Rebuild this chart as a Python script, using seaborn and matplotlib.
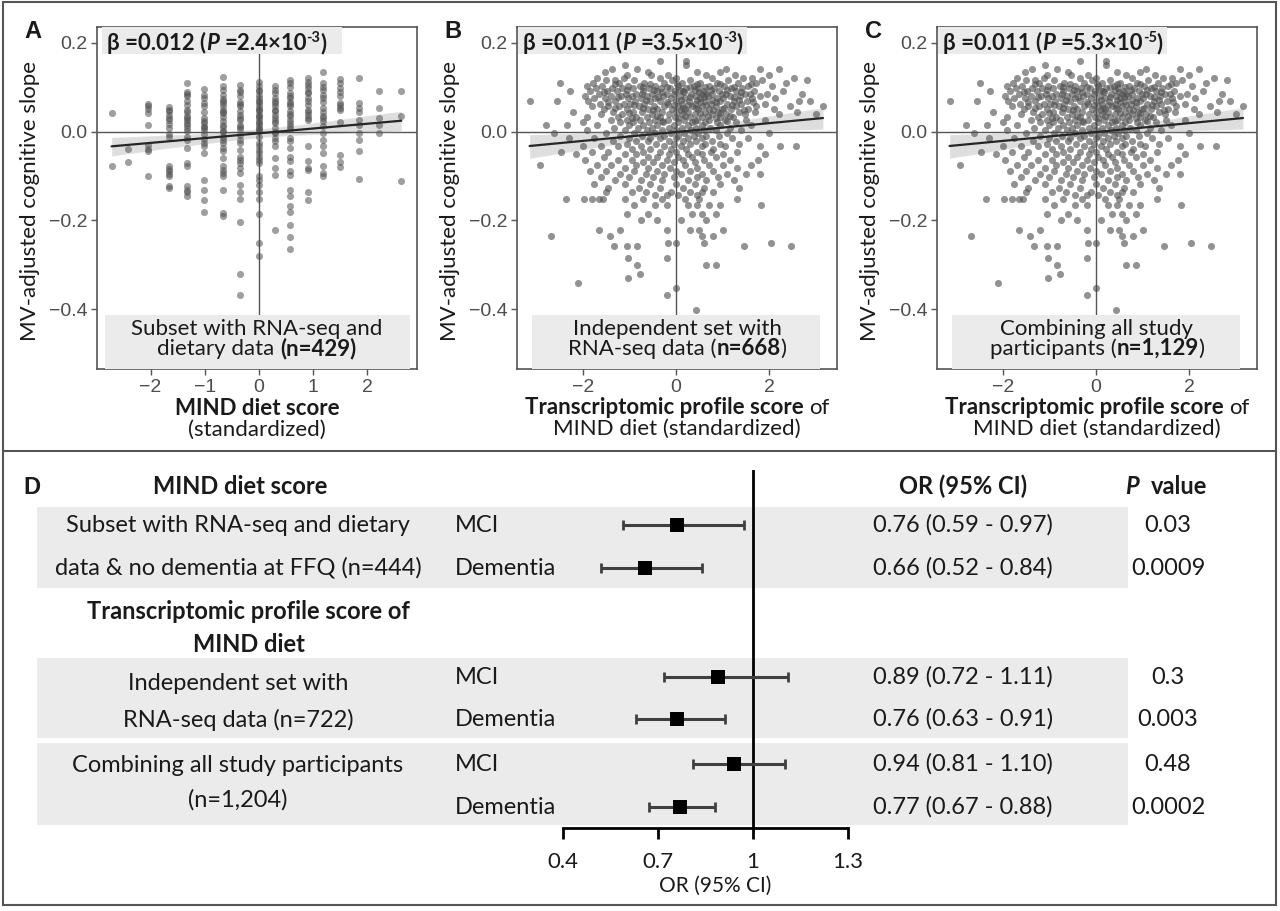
import matplotlib
matplotlib.use("Agg")
import matplotlib.pyplot as plt
import numpy as np
import pandas as pd
import seaborn as sns
from matplotlib.patches import Rectangle
from matplotlib.lines import Line2D

# ---------------- data ----------------
# Panel A: MIND diet score takes discrete standardized values (columns)
a_x_levels = [-2.72, -2.42, -2.05, -1.66, -1.32, -1.01, -0.67, -0.34, 0.0,
              0.30, 0.58, 0.90, 1.19, 1.50, 1.84, 2.22, 2.63]
a_y_by_level = [
    [0.042, -0.078],
    [-0.038, -0.069],
    [0.062, 0.057, 0.052, 0.043, 0.015, -0.030, -0.038, -0.044, -0.101],
    [0.055, 0.050, 0.047, 0.038, 0.030, 0.027, 0.018, 0.008, -0.005, -0.011, -0.078,
     -0.084, -0.089, -0.095, -0.101, -0.123, -0.128],
    [0.110, 0.090, 0.085, 0.080, 0.070, 0.060, 0.050, 0.044, 0.036, 0.030, 0.027,
     0.020, 0.014, 0.008, 0.001, -0.011, -0.018, -0.037, -0.071, -0.077, -0.123,
     -0.131, -0.137, -0.144],
    [0.096, 0.083, 0.075, 0.065, 0.057, 0.044, 0.030, 0.023, 0.020, 0.011, 0.010,
     0.003, -0.005, -0.017, -0.026, -0.033, -0.047, -0.108, -0.132, -0.155, -0.182],
    [0.123, 0.102, 0.095, 0.083, 0.074, 0.070, 0.065, 0.057, 0.050, 0.045, 0.042,
     0.033, 0.023, 0.015, 0.011, 0.001, 0.000, -0.011, -0.018, -0.026, -0.037, -0.044,
     -0.059, -0.078, -0.086, -0.093, -0.101, -0.131, -0.183, -0.191],
    [0.106, 0.095, 0.090, 0.080, 0.068, 0.062, 0.057, 0.046, 0.038, 0.030, 0.027,
     0.016, 0.010, 0.005, -0.007, -0.018, -0.026, -0.041, -0.056, -0.064, -0.071,
     -0.082, -0.093, -0.120, -0.135, -0.152, -0.204, -0.320, -0.368],
    [0.113, 0.102, 0.095, 0.091, 0.083, 0.076, 0.070, 0.068, 0.061, 0.053, 0.050,
     0.046, 0.038, 0.035, 0.031, 0.023, 0.020, 0.016, 0.008, 0.005, 0.001, -0.011,
     -0.026, -0.033, -0.041, -0.048, -0.056, -0.063, -0.071, -0.101, -0.108, -0.120,
     -0.135, -0.152, -0.185, -0.251, -0.280],
    [0.102, 0.095, 0.087, 0.076, 0.070, 0.065, 0.057, 0.050, 0.046, 0.038, 0.031,
     0.025, 0.020, 0.008, 0.000, -0.003, -0.014, -0.022, -0.032, -0.059, -0.082,
     -0.097, -0.221],
    [0.117, 0.110, 0.100, 0.087, 0.080, 0.076, 0.068, 0.062, 0.057, 0.046, 0.040,
     0.035, 0.027, 0.020, 0.012, 0.005, -0.014, -0.022, -0.037, -0.056, -0.067,
     -0.089, -0.097, -0.131, -0.146, -0.168, -0.182, -0.210, -0.238, -0.265],
    [0.121, 0.113, 0.105, 0.098, 0.090, 0.087, 0.076, 0.070, 0.061, 0.050, 0.045,
     0.038, 0.030, 0.027, -0.033, -0.067, -0.082, -0.086, -0.135, -0.153],
    [0.134, 0.110, 0.100, 0.095, 0.083, 0.075, 0.068, 0.053, 0.045, 0.035, 0.030,
     0.023, 0.012, -0.003, -0.018, -0.033, -0.047, -0.078, -0.093, -0.101],
    [0.119, 0.110, 0.098, 0.090, 0.080, 0.065, 0.061, 0.053, 0.048, 0.021, -0.052,
     -0.069, -0.080],
    [0.122, 0.065, 0.053, 0.044, 0.027, 0.014, -0.002, -0.018, -0.044, -0.107],
    [0.091, 0.053, 0.031, 0.016, -0.002],
    [0.091, 0.035, -0.112],
]

# Panels B and C (the two clouds are drawn identically): points listed row by row
b_y_levels = [0.160, 0.150, 0.142, 0.135, 0.128, 0.122, 0.116, 0.110, 0.104, 0.098,
              0.092, 0.086, 0.081, 0.075, 0.069, 0.063, 0.057, 0.051, 0.045, 0.039,
              0.033, 0.027, 0.021, 0.015, 0.009, 0.003, -0.003, -0.009, -0.015, -0.021,
              -0.027, -0.033, -0.039, -0.045, -0.051, -0.057, -0.063, -0.069, -0.075,
              -0.081, -0.088, -0.095, -0.102, -0.110, -0.118, -0.126, -0.135, -0.143,
              -0.152, -0.165, -0.185, -0.200, -0.221, -0.235, -0.250, -0.258, -0.285,
              -0.300, -0.320, -0.330, -0.341, -0.352, -0.369, -0.402]
b_x_by_level = [
    [-0.34, 0.22],
    [0.22, -1.10],
    [-1.37, -0.84, 1.06, 1.80, 2.21],
    [0.45, -0.60, 0.95, -1.52],
    [-0.54, -0.18, 1.26, 0.65, -1.05, 2.00],
    [-1.69, -1.12, 0.0, 0.76, 1.44, 2.52, -0.35, 1.62],
    [-1.50, -0.90, 0.30, 2.81, -0.08, 1.12, 1.85, -1.30],
    [-2.49, -1.78, -1.22, -0.68, -0.25, 0.12, 0.52, 0.88, 1.33, 1.72, 2.35],
    [-1.90, -1.58, -1.02, -0.78, -0.45, 0.05, 0.38, 0.70, 1.02, 1.55, 2.05],
    [-1.72, -1.38, -1.15, -0.92, -0.58, -0.32, -0.12, 0.22, 0.48, 0.82, 1.18, 1.42],
    [-2.27, -1.85, -1.48, -1.26, -0.70, -0.40, -0.02, 0.15, 0.60, 0.92, 1.28, 1.68, 2.30],
    [-1.65, -1.08, -0.85, -0.52, -0.20, 0.32, 0.55, 0.78, 1.08, 1.48, 1.95, 2.70],
    [-1.95, -1.40, -1.18, -0.95, -0.62, -0.28, 0.08, 0.42, 0.68, 1.15, 1.38, 1.80],
    [-1.75, -1.52, -1.02, -0.75, -0.45, -0.10, 0.20, 0.52, 0.88, 1.00, 1.62, 2.12],
    [-3.14, -2.56, -1.88, -1.30, -0.88, -0.55, -0.35, 0.00, 0.28, 0.62, 0.95, 1.25,
     1.52, 2.63, 2.88],
    [-1.62, -1.12, -0.98, -0.68, -0.18, 0.12, 0.40, 0.75, 1.10, 1.40, 1.90],
    [-1.80, -1.45, -1.22, -0.80, -0.48, -0.25, 0.05, 0.35, 0.55, 0.85, 1.28, 1.72,
     2.45, 3.15],
    [-1.55, -1.05, -0.60, -0.40, -0.08, 0.20, 0.48, 0.70, 0.98, 1.18, 1.55, 2.10],
    [-2.20, -1.35, -0.92, -0.72, -0.30, 0.00, 0.26, 0.62, 0.90, 1.35, 1.70, 2.60],
    [-1.60, -1.15, -0.52, -0.15, 0.12, 0.40, 0.78, 1.08, 1.48, 2.20, 3.00],
    [-1.90, -1.25, -0.85, -0.62, -0.35, -0.02, 0.30, 0.55, 0.95, 1.22],
    [-1.40, -1.05, -0.78, -0.45, -0.18, 0.18, 0.45, 0.70, 1.05, 1.50, 1.90],
    [-2.00, -1.20, -0.92, -0.58, -0.28, 0.05, 0.35, 0.62, 0.88, 1.28],
    [-2.78, -2.33, -1.70, -1.00, -0.70, -0.40, -0.05, 0.25, 0.55, 0.95, 1.60],
    [-1.32, -0.82, -0.52, -0.15, 0.12, 0.42, 0.72, 1.15],
    [-1.90, -1.10, -0.62, -0.30, 0.00, 0.32, 0.60, 0.85, 1.40],
    [-2.62, -1.50, -0.90, -0.45, -0.10, 0.18, 0.48, 1.10, 2.00],
    [-1.20, -0.72, -0.25, 0.05, 0.38, 0.65, 0.92],
    [-2.30, -1.75, -1.00, -0.55, -0.35, 0.00, 0.25, 0.55, 1.20, 1.55],
    [-1.35, -0.85, -0.60, -0.15, 0.15, 0.42, 0.78],
    [-1.05, -0.42, -0.05, 0.30, 0.62, 0.95, 1.35],
    [-2.00, -1.60, -1.25, -0.75, -0.25, 0.10, 0.55, 1.05, 1.80, 2.23, 2.57],
    [-0.95, -0.55, -0.10, 0.22, 0.80],
    [-2.46, -1.80, -1.45, -0.70, -0.35, 0.00, 0.45, 0.75, 1.30],
    [-2.15, -1.10, -0.85, -0.15, 0.25, 0.55, 1.00, 1.90],
    [-1.55, -0.60, -0.40, 0.05, 0.35, 0.85],
    [-1.95, -1.25, -0.95, -0.20, 0.15, 0.60, 1.15, 1.75],
    [-0.70, -0.50, -0.05, 0.40],
    [-2.92, -1.70, -1.40, -0.85, -0.30, 0.20, 0.70, 1.00, 1.60],
    [-1.10, -0.60, -0.12, 0.45, 1.30],
    [-1.85, -1.50, -0.90, -0.40, 0.00, 0.30, 0.80],
    [-1.20, -0.65, -0.25, 0.10, 0.55, 1.10, 1.50, 1.80],
    [-1.60, -1.00, -0.50, -0.05, 0.45, 0.90],
    [-1.30, -0.75, -0.30, 0.25, 0.65, 1.25],
    [-1.75, -1.10, -0.55, 0.00, 0.40, 0.95],
    [-1.45, -0.80, -0.35, 0.15, 0.60, 1.35],
    [-1.50, -0.95, -0.65, -0.10, 0.30, 0.55, 0.80],
    [-0.45, -0.20, 0.05, 0.45],
    [-2.37, -1.98, -1.80, -1.65, -1.56, -1.10, -0.70, -0.30, 0.20, 0.50, 1.30],
    [-0.90, -0.45, -0.20, 0.25, 0.45, 0.70, 0.95, 1.82],
    [-1.05, -0.60, 0.35, 0.55, 0.85],
    [-0.75, -0.40, 0.10, 0.65],
    [-1.65, -1.20, -0.20, 0.30, 0.50, 1.00],
    [-2.68, -1.42, 0.55, 0.80],
    [-0.18, 0.00, 0.60, 2.04],
    [-1.33, -1.06, -0.83, 1.46, 2.47],
    [-1.04, -0.20],
    [-0.84, 0.65, 0.86],
    [-0.77],
    [-1.04],
    [-2.10],
    [0.00],
    [-0.19],
    [0.43],
]
# dark, overlapping core of the B/C cloud
b_core_y_levels = [0.107, 0.101, 0.095, 0.089, 0.084, 0.078, 0.072, 0.066, 0.060,
                   0.054, 0.048, 0.042, 0.036, 0.030, 0.024]
b_core_x_by_level = [
    [-1.30, -0.55, 0.02, 0.45, 0.95, 1.60],
    [-0.70, -0.20, 0.30, 0.62, 1.25],
    [-1.05, -0.48, 0.08, 0.40, 0.75, 1.10],
    [-1.55, -0.30, 0.18, 0.50, 1.40],
    [-0.72, -0.05, 0.65, 0.98, 1.58],
    [-1.25, -0.38, 0.30, 0.60, 1.25],
    [-0.65, 0.10, 0.45, 0.78, 1.35],
    [-1.45, -0.20, 0.52, 0.85, 1.65],
    [-0.90, -0.05, 0.25, 0.65, 1.20],
    [-1.30, -0.70, 0.15, 0.42, 1.02],
    [-0.50, 0.10, 0.80, 1.45],
    [-1.00, 0.52, 0.95],
    [-0.40, 0.20, 0.68, 1.15],
    [-0.95, 0.05, 0.85],
    [-0.30, 0.40, 1.10],
]

panel_letters = ["A", "B", "C"]
beta_text = ["0.012", "0.011", "0.011"]
p_mantissa = ["2.4", "3.5", "5.3"]
p_exponent = ["-3", "-3", "-5"]
subset_line1 = ["Subset with RNA-seq and", "Independent set with", "Combining all study"]
subset_line2 = [("dietary data ", "(n=429)", ""), ("RNA-seq data (", "n=668", ")"),
                ("participants (", "n=1,129", ")")]

# Panel D: odds ratios for MCI / dementia
group_labels = [["Subset with RNA-seq and dietary", "data & no dementia at FFQ (n=444)"],
                ["Independent set with", "RNA-seq data (n=722)"],
                ["Combining all study participants", "(n=1,204)"]]
outcomes = ["MCI", "Dementia", "MCI", "Dementia", "MCI", "Dementia"]
or_est = [0.76, 0.66, 0.89, 0.76, 0.94, 0.77]
or_low = [0.59, 0.52, 0.72, 0.63, 0.81, 0.67]
or_high = [0.97, 0.84, 1.11, 0.91, 1.10, 0.88]
p_values = ["0.03", "0.0009", "0.3", "0.003", "0.48", "0.0002"]
or_ticks = [0.4, 0.7, 1.0, 1.3]
or_tick_labels = ["0.4", "0.7", "1", "1.3"]

# ---------------- style ----------------
sns.set_theme(style="white")
CAL = ["Lato", "DejaVu Sans"]
ARIAL = ["Liberation Sans", "DejaVu Sans"]
plt.rcParams["font.family"] = CAL
TXT = "#1a1a1a"
GREY_BAND = "#ebebeb"
FS_D = 17      # panel D text
FS_ANN = 16    # annotations in panels A-C

W, H = 1280, 911
fig = plt.figure(figsize=(12.8, 9.11), dpi=100)
fig.patch.set_facecolor("white")
renderer = fig.canvas.get_renderer()


def fx(x):
    return x / W


def fy(y):
    return 1 - y / H


def px_axes(l, t, r, b):
    return fig.add_axes([l / W, 1 - b / H, (r - l) / W, (b - t) / H])


def text_width(s, **kw):
    a = fig.text(0, 0, "|" + s + "|", **kw)
    b = fig.text(0, 0, "||", **kw)
    w = a.get_window_extent(renderer).width - b.get_window_extent(renderer).width
    a.remove()
    b.remove()
    return w


def rich(x, y, parts, size=FS_D, ha="center", color=TXT):
    """Draw a line of text made of differently styled pieces, baseline at y (px)."""
    items = []
    for s, opt in parts:
        kw = dict(fontsize=opt.get("size", size), fontweight=opt.get("weight", "normal"),
                  fontstyle=opt.get("style", "normal"), family=CAL)
        sp = text_width(" ", **kw)
        core = s.strip(" ")
        lead = len(s) - len(s.lstrip(" "))
        trail = len(s) - len(s.rstrip(" "))
        w = text_width(core, **kw) if core else 0
        items.append((core, kw, opt.get("dy", 0), lead * sp, w, trail * sp))
    total = sum(i[3] + i[4] + i[5] for i in items)
    x0 = x - total / 2 if ha == "center" else x
    for core, kw, dy, lw, w, tw in items:
        x0 += lw
        if core:
            fig.text(fx(x0), fy(y + dy), core, ha="left", va="baseline", color=color, **kw)
        x0 += w + tw


B = {"weight": "bold"}
N = {}

# ---------------- panels A-C ----------------
a_x = np.concatenate([[xv] * len(ys) for xv, ys in zip(a_x_levels, a_y_by_level)])
a_y = np.concatenate(a_y_by_level)
b_levels = b_y_levels + b_core_y_levels
b_rows = b_x_by_level + b_core_x_by_level
b_y = np.concatenate([[yv] * len(xs) for yv, xs in zip(b_levels, b_rows)])
b_x = np.concatenate(b_rows)
frames = [pd.DataFrame({"x": a_x, "y": a_y}),
          pd.DataFrame({"x": b_x, "y": b_y}),
          pd.DataFrame({"x": b_x, "y": b_y})]

lefts = [97, 517, 937]
width = 320
top, bottom = 27, 369
xlims = [(-2.99, 2.92), (-3.41, 3.45), (-3.41, 3.45)]
xticks = [[-2, -1, 0, 1, 2], [-2, 0, 2], [-2, 0, 2]]
ylim = (-0.535, 0.236)
beta_box_x = [(-2.90, 1.53), (-3.39, 1.51), (-3.39, 1.51)]
bottom_box_x = [(-2.84, 2.79), (-3.09, 3.09), (-3.09, 3.09)]
point_alpha = [0.55, 0.62, 0.62]

for i, df in enumerate(frames):
    l = lefts[i]
    r = l + width
    ax = px_axes(l, top, r, bottom)
    ax.axhline(0, color="#555555", lw=1.0, zorder=1)
    ax.axvline(0, color="#555555", lw=1.0, zorder=1)
    sns.scatterplot(data=df, x="x", y="y", ax=ax, color="#505050", alpha=point_alpha[i],
                    s=26, linewidth=0, zorder=2)
    sns.regplot(data=df, x="x", y="y", ax=ax, scatter=False, ci=95, seed=3,
                color="#262626", line_kws={"lw": 1.6, "zorder": 3})
    ax.set_xlim(*xlims[i])
    ax.set_ylim(*ylim)
    ax.set_xticks(xticks[i], labels=[str(t).replace("-", "\u2212") for t in xticks[i]])
    ax.set_yticks([0.2, 0.0, -0.2, -0.4], labels=["0.2", "0.0", "\u22120.2", "\u22120.4"])
    ax.tick_params(bottom=True, left=True, length=4, width=1, color="#555555",
                   labelcolor="#4d4d4d", labelsize=14, pad=3)
    for lbl in ax.get_xticklabels() + ax.get_yticklabels():
        lbl.set_family(ARIAL)
    for sp in ax.spines.values():
        sp.set_visible(True)
        sp.set_color("#555555")
        sp.set_linewidth(1.2)
    ax.set_xlabel("")
    ax.set_ylabel("MV-adjusted cognitive slope", fontsize=16, color=TXT, family=CAL)
    ax.yaxis.set_label_coords(-67 / width, (bottom - 201) / (bottom - top))
    ax.yaxis.label.set_va("center")

    # label boxes
    bx0, bx1 = beta_box_x[i]
    ax.add_patch(Rectangle((bx0, 0.176), bx1 - bx0, 0.2, color=GREY_BAND, zorder=4,
                           clip_on=True, lw=0))
    cx0, cx1 = bottom_box_x[i]
    ax.add_patch(Rectangle((cx0, -0.6), cx1 - cx0, 0.186, color=GREY_BAND, zorder=4,
                           clip_on=True, lw=0))

    # panel letter
    fig.text(fx(l - 64), fy(32), panel_letters[i], fontsize=17, fontweight="bold",
             family=ARIAL, ha="center", va="center", color=TXT)

    # beta annotation
    bcx = ax.transData.transform((bx0, 0))[0] + 5
    rich(bcx, 50, [("\u03b2 =" + beta_text[i] + " (", B),
                   ("P", {"weight": "bold", "style": "italic"}),
                   (" =" + p_mantissa[i] + "\u00d710", B),
                   (p_exponent[i], {"weight": "bold", "size": 10.5, "dy": -8}), (")", B)],
         size=FS_ANN, ha="left")

    # bottom annotation
    xc = (l + r) / 2
    rich(xc, 335, [(subset_line1[i], N)], size=FS_ANN)
    s1, s2, s3 = subset_line2[i]
    rich(xc, 355, [(s1, N), (s2, B), (s3, N)], size=FS_ANN)

    # x-axis labels
    if i == 0:
        rich(xc, 415, [("MIND diet score", B)], size=FS_ANN)
        rich(xc, 436, [("(standardized)", N)], size=FS_ANN)
    else:
        rich(xc, 414, [("Transcriptomic profile score", B), (" of", N)], size=FS_ANN)
        rich(xc, 435, [("MIND diet (standardized)", N)], size=FS_ANN)

# ---------------- panel D ----------------
row_y = [525, 568, 677, 719, 764, 807]  # vertical layout of the result rows (px)
for (t, b) in [(507, 588), (658, 738), (743, 825)]:
    fig.add_artist(Rectangle((fx(37), fy(b)), fx(1128) - fx(37), fy(t) - fy(b),
                             transform=fig.transFigure, color=GREY_BAND, lw=0, zorder=-1))

axf = px_axes(563, 470, 848, 828)
axf.patch.set_alpha(0)
axf.set_xlim(0.4, 1.3)
axf.set_ylim(828, 470)
axf.axvline(1.0, color="black", lw=2, zorder=1)
axf.errorbar(or_est, row_y, xerr=[np.subtract(or_est, or_low), np.subtract(or_high, or_est)],
             fmt="none", ecolor="#404040", elinewidth=2.2, capsize=3.5, capthick=2, zorder=2)
sns.scatterplot(x=or_est, y=row_y, ax=axf, marker="s", s=110, color="black",
                linewidth=0, zorder=3)
for k in ["top", "right", "left"]:
    axf.spines[k].set_visible(False)
axf.spines["bottom"].set_visible(True)
axf.spines["bottom"].set_color("black")
axf.spines["bottom"].set_linewidth(2)
axf.spines["bottom"].set_bounds(0.4, 1.3)
axf.set_yticks([])
axf.set_xticks(or_ticks, labels=or_tick_labels)
axf.tick_params(bottom=True, length=8, width=2, color="black", labelsize=16,
                labelcolor=TXT, pad=9)
axf.set_xlabel("")

fig.text(fx(32), fy(488), "D", fontsize=17, fontweight="bold", family=ARIAL,
         ha="center", va="center", color=TXT)
rich(240, 494, [("MIND diet score", B)])
rich(248, 619, [("Transcriptomic profile score of", B)])
rich(249, 652, [("MIND diet", B)])
group_rows = [(532, 575), (690, 727), (772, 807)]
for lines, (y1, y2) in zip(group_labels, group_rows):
    rich(238, y1, [(lines[0], N)])
    rich(238, y2, [(lines[1], N)])

rich(963, 494, [("OR (95% CI)", B)])
rich(1166, 494, [("P", {"weight": "bold", "style": "italic"}), ("  value", B)])
for k, yv in enumerate(row_y):
    rich(455, yv + 7, [(outcomes[k], N)], ha="left")
    rich(963, yv + 7, [(f"{or_est[k]:.2f} ({or_low[k]:.2f} - {or_high[k]:.2f})", N)])
    rich(1168, yv + 7, [(p_values[k], N)])
rich(715, 892, [("OR (95% CI)", N)], size=15)

# frames
fig.add_artist(Rectangle((fx(3), fy(905)), fx(1276) - fx(3), fy(2) - fy(905),
                         transform=fig.transFigure, fill=False, edgecolor="#555555", lw=1.5))
fig.add_artist(Line2D([fx(3), fx(1276)], [fy(451), fy(451)], transform=fig.transFigure,
                      color="#555555", lw=1.5))

fig.savefig("out.png", dpi=100)
